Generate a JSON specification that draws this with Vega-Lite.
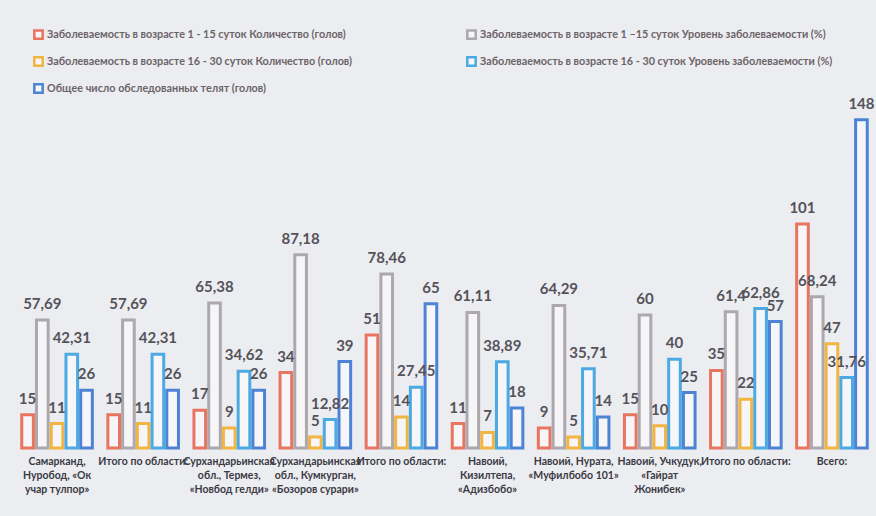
{
  "$schema": "https://vega.github.io/schema/vega-lite/v6.json",
  "autosize": {"type": "fit", "contains": "padding"},
  "width": 876,
  "height": 516,
  "padding": {"left": 14, "right": 1, "top": 20, "bottom": 21},
  "background": "#ecedf1",
  "config": {
    "locale": {"number": {"decimal": ",", "thousands": " ", "grouping": [3], "currency": ["", ""]}},
    "view": {"stroke": null},
    "font": "Lato"
  },
  "data": {
    "values": [
      {"cat": "Самарканд,|Нуробод, «Ок|учар тулпор»", "Заболеваемость в возрасте 1 - 15 суток Количество (голов)": 15, "Заболеваемость в возрасте 1 –15 суток Уровень заболеваемости (%)": 57.69, "Заболеваемость в возрасте 16 - 30 суток Количество (голов)": 11, "Заболеваемость в возрасте 16 - 30 суток Уровень заболеваемости (%)": 42.31, "Общее число обследованных телят (голов)": 26},
      {"cat": "Итого по области:", "Заболеваемость в возрасте 1 - 15 суток Количество (голов)": 15, "Заболеваемость в возрасте 1 –15 суток Уровень заболеваемости (%)": 57.69, "Заболеваемость в возрасте 16 - 30 суток Количество (голов)": 11, "Заболеваемость в возрасте 16 - 30 суток Уровень заболеваемости (%)": 42.31, "Общее число обследованных телят (голов)": 26},
      {"cat": "Сурхандарьинская|обл., Термез,|«Новбод гелди»", "Заболеваемость в возрасте 1 - 15 суток Количество (голов)": 17, "Заболеваемость в возрасте 1 –15 суток Уровень заболеваемости (%)": 65.38, "Заболеваемость в возрасте 16 - 30 суток Количество (голов)": 9, "Заболеваемость в возрасте 16 - 30 суток Уровень заболеваемости (%)": 34.62, "Общее число обследованных телят (голов)": 26},
      {"cat": "Сурхандарьинская|обл., Кумкурган,|«Бозоров сурари»", "Заболеваемость в возрасте 1 - 15 суток Количество (голов)": 34, "Заболеваемость в возрасте 1 –15 суток Уровень заболеваемости (%)": 87.18, "Заболеваемость в возрасте 16 - 30 суток Количество (голов)": 5, "Заболеваемость в возрасте 16 - 30 суток Уровень заболеваемости (%)": 12.82, "Общее число обследованных телят (голов)": 39},
      {"cat": "Итого по области:\u200b", "Заболеваемость в возрасте 1 - 15 суток Количество (голов)": 51, "Заболеваемость в возрасте 1 –15 суток Уровень заболеваемости (%)": 78.46, "Заболеваемость в возрасте 16 - 30 суток Количество (голов)": 14, "Заболеваемость в возрасте 16 - 30 суток Уровень заболеваемости (%)": 27.45, "Общее число обследованных телят (голов)": 65},
      {"cat": "Навоий,|Кизилтепа,|«Адизбобо»", "Заболеваемость в возрасте 1 - 15 суток Количество (голов)": 11, "Заболеваемость в возрасте 1 –15 суток Уровень заболеваемости (%)": 61.11, "Заболеваемость в возрасте 16 - 30 суток Количество (голов)": 7, "Заболеваемость в возрасте 16 - 30 суток Уровень заболеваемости (%)": 38.89, "Общее число обследованных телят (голов)": 18},
      {"cat": "Навоий, Нурата,|«Муфилбобо 101»", "Заболеваемость в возрасте 1 - 15 суток Количество (голов)": 9, "Заболеваемость в возрасте 1 –15 суток Уровень заболеваемости (%)": 64.29, "Заболеваемость в возрасте 16 - 30 суток Количество (голов)": 5, "Заболеваемость в возрасте 16 - 30 суток Уровень заболеваемости (%)": 35.71, "Общее число обследованных телят (голов)": 14},
      {"cat": "Навоий, Учкудук,|«Гайрат|Жонибек»", "Заболеваемость в возрасте 1 - 15 суток Количество (голов)": 15, "Заболеваемость в возрасте 1 –15 суток Уровень заболеваемости (%)": 60, "Заболеваемость в возрасте 16 - 30 суток Количество (голов)": 10, "Заболеваемость в возрасте 16 - 30 суток Уровень заболеваемости (%)": 40, "Общее число обследованных телят (голов)": 25},
      {"cat": "Итого по области:\u200b\u200b", "Заболеваемость в возрасте 1 - 15 суток Количество (голов)": 35, "Заболеваемость в возрасте 1 –15 суток Уровень заболеваемости (%)": 61.4, "Заболеваемость в возрасте 16 - 30 суток Количество (голов)": 22, "Заболеваемость в возрасте 16 - 30 суток Уровень заболеваемости (%)": 62.86, "Общее число обследованных телят (голов)": 57},
      {"cat": "Всего:", "Заболеваемость в возрасте 1 - 15 суток Количество (голов)": 101, "Заболеваемость в возрасте 1 –15 суток Уровень заболеваемости (%)": 68.24, "Заболеваемость в возрасте 16 - 30 суток Количество (голов)": 47, "Заболеваемость в возрасте 16 - 30 суток Уровень заболеваемости (%)": 31.76, "Общее число обследованных телят (голов)": 148}
    ]
  },
  "transform": [
    {"fold": [
      "Заболеваемость в возрасте 1 - 15 суток Количество (голов)",
      "Заболеваемость в возрасте 1 –15 суток Уровень заболеваемости (%)",
      "Заболеваемость в возрасте 16 - 30 суток Количество (голов)",
      "Заболеваемость в возрасте 16 - 30 суток Уровень заболеваемости (%)",
      "Общее число обследованных телят (голов)"
    ], "as": ["series", "value"]}
  ],
  "encoding": {
    "x": {
      "field": "cat", "type": "nominal", "sort": null,
      "scale": {"paddingInner": 0.18, "paddingOuter": 0.09},
      "axis": {
        "title": null, "labelAngle": 0, "domain": false, "ticks": false,
        "labelExpr": "split(datum.label, '|')",
        "labelPadding": 8, "labelFontSize": 10.5, "labelFontWeight": "bold",
        "labelColor": "#3a3a44", "labelLineHeight": 14, "labelBaseline": "top",
        "labelOverlap": false, "labelBound": false, "labelLimit": 300
      }
    },
    "xOffset": {
      "field": "series", "type": "nominal",
      "sort": [
        "Заболеваемость в возрасте 1 - 15 суток Количество (голов)",
        "Заболеваемость в возрасте 1 –15 суток Уровень заболеваемости (%)",
        "Заболеваемость в возрасте 16 - 30 суток Количество (голов)",
        "Заболеваемость в возрасте 16 - 30 суток Уровень заболеваемости (%)",
        "Общее число обследованных телят (голов)"
      ],
      "scale": {"paddingInner": 0.21, "paddingOuter": 0}
    },
    "y": {"field": "value", "type": "quantitative", "scale": {"domain": [0, 193]}, "axis": null}
  },
  "layer": [
    {
      "mark": {"type": "bar", "fill": "#f6f6f8", "strokeWidth": 3},
      "encoding": {
        "stroke": {
          "field": "series", "type": "nominal",
          "scale": {
            "domain": [
              "Заболеваемость в возрасте 1 - 15 суток Количество (голов)",
              "Заболеваемость в возрасте 1 –15 суток Уровень заболеваемости (%)",
              "Заболеваемость в возрасте 16 - 30 суток Количество (голов)",
              "Заболеваемость в возрасте 16 - 30 суток Уровень заболеваемости (%)",
              "Общее число обследованных телят (голов)"
            ],
            "range": ["#e8755f", "#aca8ae", "#f2b541", "#4ba9e3", "#4d83d4"]
          },
          "legend": {
            "title": null, "orient": "none", "legendX": 19, "legendY": 9,
            "direction": "horizontal",
            "columns": 2, "columnPadding": 110, "rowPadding": 8,
            "symbolType": "square", "symbolSize": 70, "symbolStrokeWidth": 2.5, "symbolFillColor": "#f6f6f8",
            "labelFontSize": 10.8, "labelFontWeight": "bold", "labelColor": "#6b6468", "labelLimit": 500, "labelOffset": 3
          }
        }
      }
    },
    {
      "mark": {"type": "text", "dy": -11, "fontSize": 15, "fontWeight": "bold", "color": "#55535a", "baseline": "alphabetic"},
      "encoding": {"text": {"field": "value", "type": "quantitative", "format": "~g"}}
    }
  ]
}
